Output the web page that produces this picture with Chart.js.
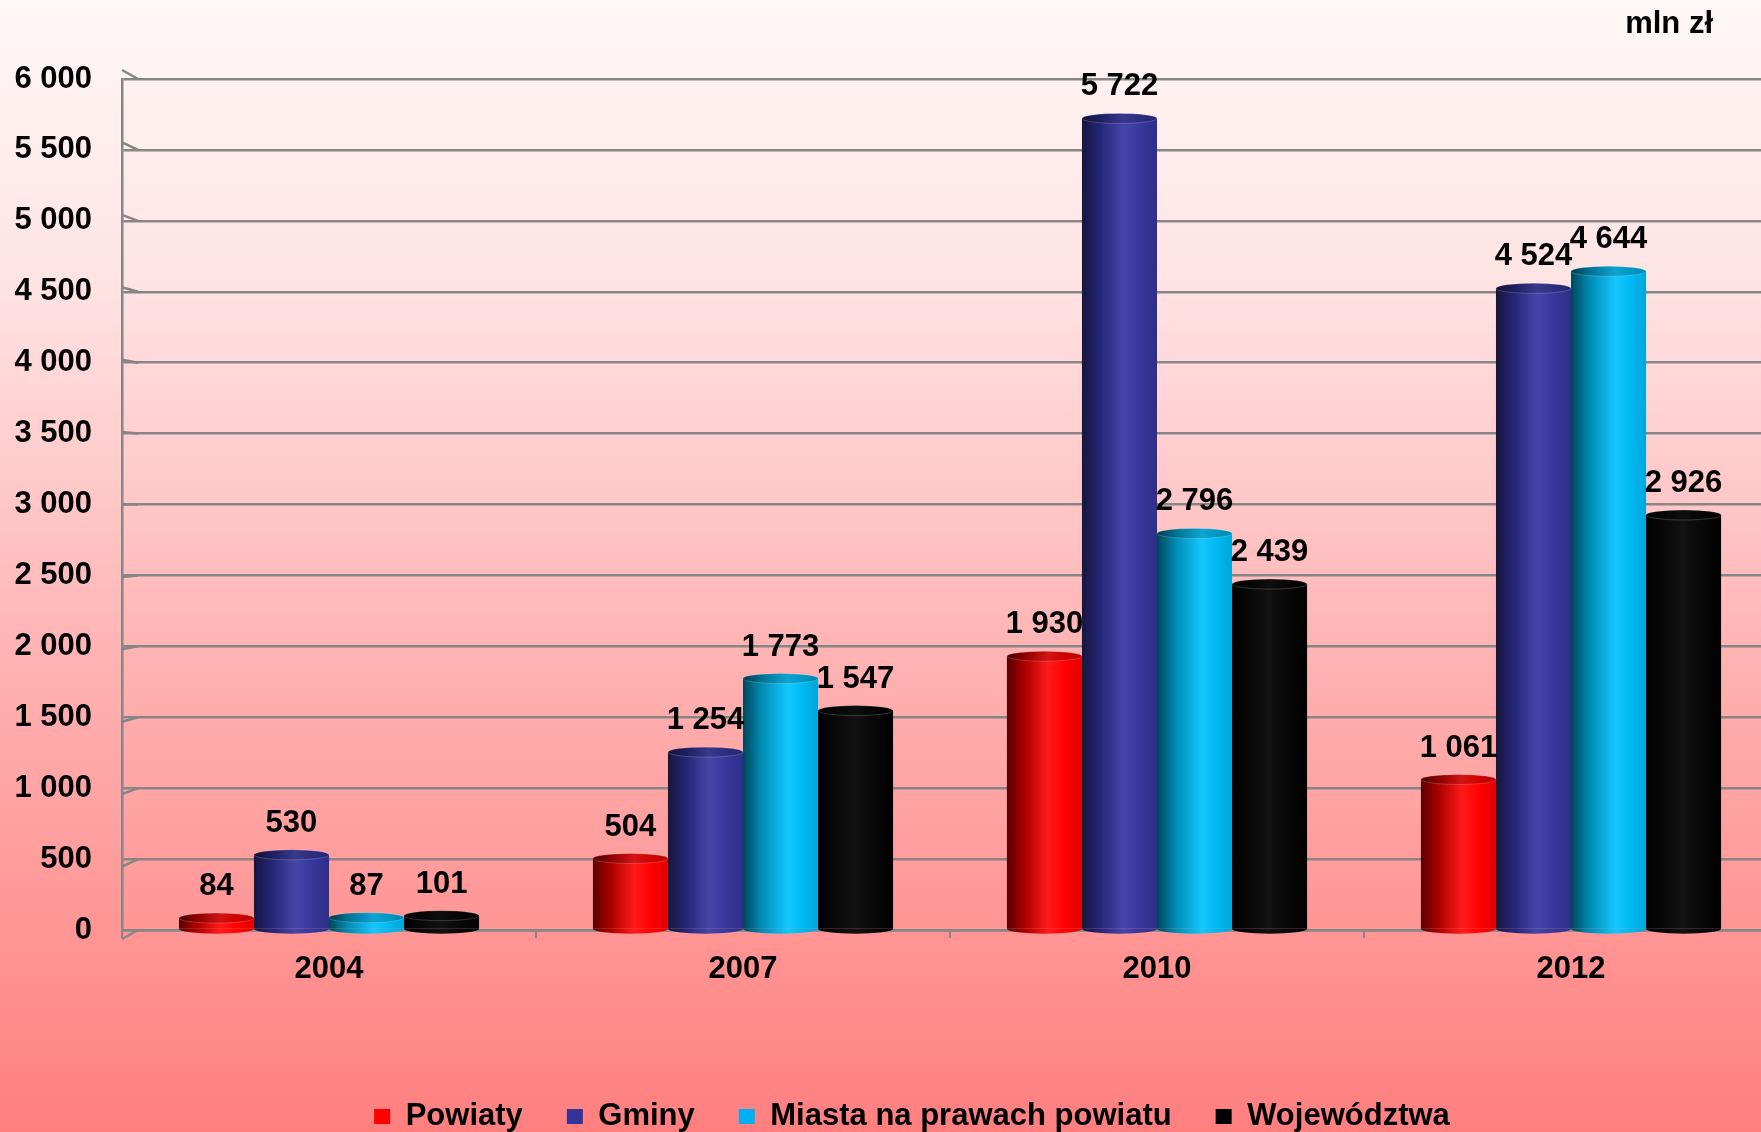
<!DOCTYPE html>
<html>
<head>
<meta charset="utf-8">
<script src="https://cdn.jsdelivr.net/npm/chart.js@4.4.1/dist/chart.umd.min.js"></script>
<style>
  html, body { margin: 0; padding: 0; overflow: hidden; background: #ff8080; }
  canvas { display: block; }
</style>
</head>
<body>
<canvas id="chart" width="1778" height="1132"></canvas>
<script>
// dane (mln zł)
const years = ['2004', '2007', '2010', '2012'];
const powiaty = [84, 504, 1930, 1061];
const gminy = [530, 1254, 5722, 4524];
const miasta = [87, 1773, 2796, 4644];
const wojewodztwa = [101, 1547, 2439, 2926];
const seriesNames = ['Powiaty', 'Gminy', 'Miasta na prawach powiatu', 'Województwa'];
const yMax = 6000;
const yStep = 500;
const unitLabel = 'mln zł';

const legendColors = ['#ff0000', '#333399', '#00b0f0', '#000000'];
// cylinder shading, left -> right
const shades = [
  [[0, '#5a0000'], [0.25, '#b00000'], [0.55, '#ff1a1a'], [0.78, '#ff0000'], [1, '#e00000']],
  [[0, '#16163f'], [0.25, '#262678'], [0.55, '#4646aa'], [0.8, '#36369a'], [1, '#2e2e8a']],
  [[0, '#00465a'], [0.25, '#008cb4'], [0.6, '#12c8ff'], [0.8, '#00b8f0'], [1, '#00a6da']],
  [[0, '#000000'], [0.5, '#121212'], [0.62, '#0c0c0c'], [1, '#000000']]
];
const catFill = 0.725;
const fmt = v => String(v).replace(/\B(?=(\d{3})+(?!\d))/g, ' ');

Chart.defaults.font.family = '"Liberation Sans", Arial, sans-serif';
Chart.defaults.font.weight = 'bold';
Chart.defaults.font.size = 31;
Chart.defaults.color = '#000';

function barGradient(ctx, i, left, width) {
  const g = ctx.createLinearGradient(left, 0, left + width, 0);
  shades[i].forEach(s => g.addColorStop(s[0], s[1]));
  return g;
}

function barFill(c) {
  const chart = c.chart;
  const x = chart.scales.x;
  if (!x || !x.width || c.dataIndex === undefined) return legendColors[c.datasetIndex];
  const catW = x.width / years.length;
  const w = catW * catFill / seriesNames.length;
  const left = x.getPixelForValue(c.dataIndex) + (c.datasetIndex - seriesNames.length / 2) * w;
  return barGradient(chart.ctx, c.datasetIndex, left, w);
}

const bgPlugin = {
  id: 'bg',
  beforeDraw(chart) {
    const { ctx, width, height } = chart;
    const g = ctx.createLinearGradient(0, 0, 0, height);
    g.addColorStop(0, '#fff8f8');
    g.addColorStop(0.25, '#ffe3e3');
    g.addColorStop(0.6, '#ffb0b0');
    g.addColorStop(0.8, '#ff9898');
    g.addColorStop(1, '#ff7f7f');
    ctx.save();
    ctx.fillStyle = g;
    ctx.fillRect(0, 0, width, height);
    ctx.restore();
  }
};

// move the legend row to where the original has it
const legendShift = {
  id: 'legendShift',
  afterLayout(chart) {
    const lg = chart.legend;
    lg.left += 23; lg.right += 23;
    lg.top += 10; lg.bottom += 10;
  }
};

// side wall stubs of the 3D grid
const wallPlugin = {
  id: 'wall',
  beforeDatasetsDraw(chart) {
    const { ctx, chartArea } = chart;
    const y = chart.scales.y;
    ctx.save();
    ctx.strokeStyle = '#868686';
    ctx.lineWidth = 2.5;
    y.ticks.forEach(t => {
      const py = y.getPixelForValue(t.value);
      const k = (py - (chartArea.top + chartArea.bottom) / 2) / (chartArea.bottom - chartArea.top);
      ctx.beginPath();
      ctx.moveTo(chartArea.left, py + k * 18);
      ctx.lineTo(chartArea.left + 16, py);
      ctx.stroke();
    });
    ctx.restore();
  }
};

const cylPlugin = {
  id: 'cyl',
  afterDatasetsDraw(chart) {
    const ctx = chart.ctx;
    const ry = 5;
    chart.data.datasets.forEach((ds, i) => {
      chart.getDatasetMeta(i).data.forEach(el => {
        const rx = el.width / 2;
        const left = el.x - rx;
        ctx.save();
        ctx.fillStyle = barGradient(ctx, i, left, el.width);
        ctx.beginPath();
        ctx.ellipse(el.x, el.base, rx, ry, 0, 0, Math.PI);
        ctx.fill();
        ctx.beginPath();
        ctx.ellipse(el.x, el.y, rx, ry, 0, 0, Math.PI * 2);
        ctx.fill();
        ctx.fillStyle = 'rgba(0,0,0,0.18)';
        ctx.fill();
        ctx.strokeStyle = 'rgba(255,255,255,0.18)';
        ctx.lineWidth = 1;
        ctx.stroke();
        ctx.restore();
      });
    });
  }
};

const labelPlugin = {
  id: 'vals',
  afterDraw(chart) {
    const ctx = chart.ctx;
    ctx.save();
    ctx.font = 'bold 31px "Liberation Sans", Arial, sans-serif';
    ctx.fillStyle = '#000';
    ctx.textAlign = 'center';
    ctx.textBaseline = 'alphabetic';
    chart.data.datasets.forEach((ds, i) => {
      chart.getDatasetMeta(i).data.forEach((el, j) => {
        ctx.fillText(fmt(ds.data[j]), el.x, el.y - 23);
      });
    });
    ctx.textAlign = 'right';
    ctx.fillText(unitLabel, 1713, 33);
    ctx.restore();
  }
};

const series = [powiaty, gminy, miasta, wojewodztwa];

new Chart(document.getElementById('chart'), {
  type: 'bar',
  data: {
    labels: years,
    datasets: series.map((d, i) => ({
      label: seriesNames[i],
      data: d,
      backgroundColor: barFill,
      borderWidth: 0,
      categoryPercentage: catFill,
      barPercentage: 1
    }))
  },
  options: {
    responsive: false,
    animation: false,
    layout: { padding: { left: 0, top: 79, right: 0, bottom: 0 } },
    scales: {
      x: {
        grid: { drawOnChartArea: false, tickLength: 8, color: '#868686', lineWidth: 2 },
        border: { display: true, color: '#868686', width: 2.5 },
        ticks: { padding: 13, font: { size: 31, weight: 'bold' } },
        afterFit: s => { s.height = 117; }
      },
      y: {
        min: 0,
        max: yMax,
        grid: { drawTicks: false, color: '#868686', lineWidth: 2.5 },
        border: { display: true, color: '#868686', width: 2.5 },
        ticks: { stepSize: yStep, padding: 30, callback: v => fmt(v), font: { size: 31, weight: 'bold' } },
        afterFit: s => { s.width = 122; }
      }
    },
    plugins: {
      tooltip: { enabled: false },
      legend: {
        position: 'bottom',
        labels: {
          boxWidth: 16,
          boxHeight: 15,
          padding: 44,
          color: '#000',
          font: { size: 31, weight: 'bold' },
          generateLabels: () => seriesNames.map((n, i) => ({
            text: n, fillStyle: legendColors[i], strokeStyle: legendColors[i],
            lineWidth: 0, datasetIndex: i, hidden: false
          }))
        }
      }
    }
  },
  plugins: [bgPlugin, legendShift, wallPlugin, cylPlugin, labelPlugin]
});
</script>
</body>
</html>
